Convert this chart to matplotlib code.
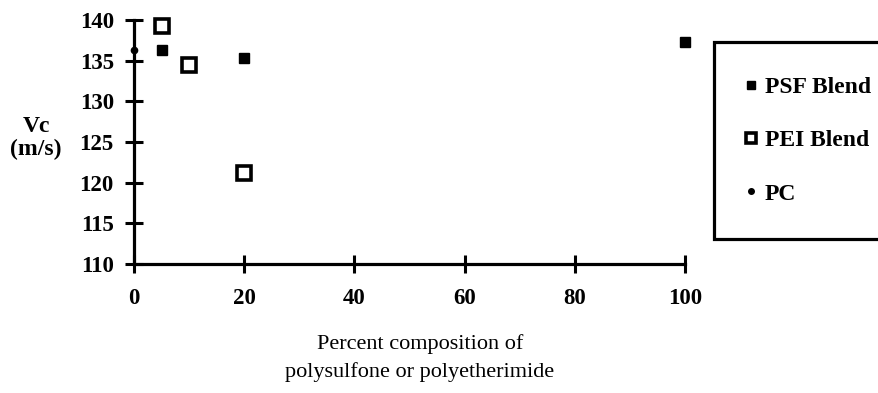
import matplotlib
matplotlib.use("Agg")
import matplotlib.pyplot as plt

# data
psf_x = [5, 20, 100]
psf_y = [136.3, 135.3, 137.3]

pei_x = [5, 10, 20]
pei_y = [139.3, 134.5, 121.2]

pc_x = [0]
pc_y = [136.3]

xticks = [0, 20, 40, 60, 80, 100]
yticks = [110, 115, 120, 125, 130, 135, 140]

plt.rcParams['font.family'] = ['Liberation Serif', 'DejaVu Serif']

W, H = 879, 393
fig = plt.figure(figsize=(W/100, H/100), dpi=100)
ax = fig.add_axes([134/W, 1-264/H, (685-134)/W, (264-20)/H])

ax.plot(psf_x, psf_y, ls='none', marker='s', ms=6.5, color='black', label='PSF Blend', clip_on=False)
ax.plot(pei_x, pei_y, ls='none', marker='s', ms=9.5, mfc='white', mec='black', mew=2.6,
        label='PEI Blend', clip_on=False)
ax.plot(pc_x, pc_y, ls='none', marker='o', ms=4.5, color='black', label='PC', clip_on=False, zorder=5)

ax.set_xlim(0, 100)
ax.set_ylim(110, 140)
ax.set_xticks(xticks)
ax.set_yticks(yticks)
for s in ['top', 'right']:
    ax.spines[s].set_visible(False)
for s in ['left', 'bottom']:
    ax.spines[s].set_linewidth(2.3)
ax.tick_params(direction='inout', length=13, width=2.2, labelsize=16.5)
ax.tick_params(axis='x', pad=11)
ax.tick_params(axis='y', pad=8)
for lab in ax.get_xticklabels() + ax.get_yticklabels():
    lab.set_fontweight('bold')

fig.text(36/W, 1-138/H, 'Vc\n(m/s)', ha='center', va='center', fontsize=17,
         fontweight='bold', linespacing=1.15)
fig.text(420/W, 1-358/H, 'Percent composition of\npolysulfone or polyetherimide',
         ha='center', va='center', fontsize=16, linespacing=1.6)

# legend box runs off the right edge, as in the original
leg = ax.legend(loc='upper left', bbox_to_anchor=(714/W, 1-42/H, 0.3, 0),
                bbox_transform=fig.transFigure, mode='expand', fontsize=17,
                frameon=True, fancybox=False, framealpha=1, borderpad=1.45,
                labelspacing=1.35, handlelength=0.2, handletextpad=0.5,
                borderaxespad=0)
for t in leg.get_texts():
    t.set_fontweight('bold')
for h, sz in zip(leg.legend_handles, [5.5, 7, 4]):
    h.set_markersize(sz)
fr = leg.get_frame()
fr.set_edgecolor('black')
fr.set_linewidth(2.3)

fig.savefig('out.png', dpi=100)
